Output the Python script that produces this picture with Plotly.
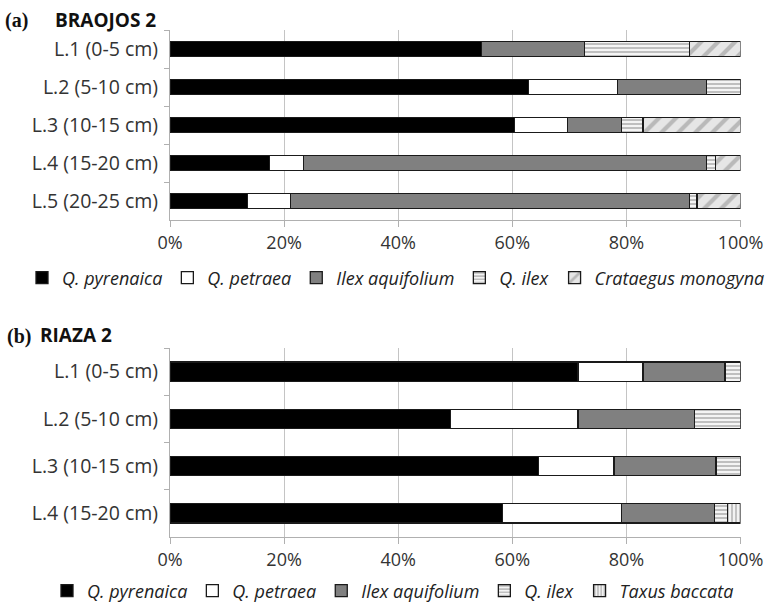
import plotly.graph_objects as go

# ---------------- data ----------------
cats_a = ["L.1 (0-5 cm)", "L.2 (5-10 cm)", "L.3 (10-15 cm)", "L.4 (15-20 cm)", "L.5 (20-25 cm)"]
pyr_a = [54.6, 62.8, 60.4, 17.5, 13.6]
pet_a = [0.0, 15.6, 9.3, 5.9, 7.5]
ilex_a = [18.0, 15.7, 9.4, 70.6, 69.9]
qilex_a = [18.4, 5.9, 3.8, 1.6, 1.4]
crat_a = [9.0, 0.0, 17.1, 4.4, 7.6]

cats_b = ["L.1 (0-5 cm)", "L.2 (5-10 cm)", "L.3 (10-15 cm)", "L.4 (15-20 cm)"]
pyr_b = [71.5, 49.2, 64.6, 58.3]
pet_b = [11.4, 22.3, 13.2, 20.9]
ilex_b = [14.4, 20.4, 17.9, 16.2]
qilex_b = [2.7, 8.1, 4.3, 2.3]
taxus_b = [0.0, 0.0, 0.0, 2.3]

x_ticks = [0, 20, 40, 60, 80, 100]
x_tick_labels = ["0%", "20%", "40%", "60%", "80%", "100%"]

W, H = 769, 605
FONT = "Open Sans"
LINE = dict(color="#1a1a1a", width=1.3)

styles = {
    "Q. pyrenaica": dict(color="#000000"),
    "Q. petraea": dict(color="#ffffff"),
    "Ilex aquifolium": dict(color="#808080"),
    "Q. ilex": dict(color="#ffffff", pattern=dict(shape="-", fgcolor="#7f7f7f", bgcolor="#f4f4f4", size=4, solidity=0.45)),
    "Crataegus monogyna": dict(color="#e0e0e0", pattern=dict(shape="/", fgcolor="#8c8c8c", bgcolor="#e6e6e6", size=12, solidity=0.35)),
    "Taxus baccata": dict(color="#ffffff", pattern=dict(shape="|", fgcolor="#7a7a7a", bgcolor="#f2f2f2", size=4, solidity=0.4)),
}

fig = go.Figure()

def add(name, cats, vals, xa, ya, legend):
    st = styles[name]
    marker = dict(color=st["color"], line=LINE)
    if "pattern" in st:
        marker["pattern"] = st["pattern"]
    fig.add_trace(go.Bar(
        y=cats, x=vals, name=name, orientation="h", marker=marker,
        xaxis=xa, yaxis=ya, legend=legend, width=0.41,
    ))

series_a = [("Q. pyrenaica", pyr_a), ("Q. petraea", pet_a), ("Ilex aquifolium", ilex_a),
            ("Q. ilex", qilex_a), ("Crataegus monogyna", crat_a)]
series_b = [("Q. pyrenaica", pyr_b), ("Q. petraea", pet_b), ("Ilex aquifolium", ilex_b),
            ("Q. ilex", qilex_b), ("Taxus baccata", taxus_b)]

for n, v in series_a:
    add(n, cats_a, v, "x", "y", "legend")
for n, v in series_b:
    add(n, cats_b, v, "x2", "y2", "legend2")

def py(px):
    return 1 - px / H

def pxx(px):
    return px / W

xdom = [pxx(170), pxx(740.5)]
xcommon = dict(
    range=[0, 100], tickvals=x_ticks, ticktext=x_tick_labels, showgrid=True, gridcolor="#c4c4c4", gridwidth=1,
    showline=True, linecolor="#b0b0b0", linewidth=1, ticks="outside", ticklen=6, tickcolor="#b0b0b0",
    zeroline=False, tickfont=dict(family=FONT, size=18, color="#333333"), domain=xdom, fixedrange=True,
    automargin=False,
)
ycommon = dict(
    type="category", autorange="reversed", showline=True, linecolor="#b0b0b0", linewidth=1,
    ticks="outside", tickson="boundaries", ticklen=5, tickcolor="#b0b0b0", showgrid=False,
    tickfont=dict(family=FONT, size=19.5, color="#333333"), ticklabelstandoff=7, fixedrange=True,
    automargin=False,
)

legfont = dict(family=FONT, size=18, color="#222222", style="italic")

fig.update_layout(
    width=W, height=H, margin=dict(l=0, r=0, t=0, b=0, autoexpand=False),
    paper_bgcolor="white", plot_bgcolor="white", barmode="stack",
    xaxis=dict(xcommon, anchor="y"),
    yaxis=dict(ycommon, domain=[py(220), py(30)], anchor="x"),
    xaxis2=dict(xcommon, anchor="y2"),
    yaxis2=dict(ycommon, domain=[py(537), py(348)], anchor="x2"),
    legend=dict(orientation="h", x=pxx(22), y=py(278), xanchor="left", yanchor="middle",
                font=legfont, itemwidth=30, traceorder="normal", bgcolor="rgba(0,0,0,0)"),
    legend2=dict(orientation="h", x=pxx(47), y=py(591), xanchor="left", yanchor="middle",
                 font=legfont, itemwidth=30, traceorder="normal", bgcolor="rgba(0,0,0,0)"),
    annotations=[
        dict(text="<b>(a)</b>", x=pxx(3), y=py(21), xref="paper", yref="paper", xanchor="left", yanchor="middle",
             showarrow=False, font=dict(family="Liberation Serif", size=20, color="#111111")),
        dict(text="<b>BRAOJOS 2</b>", x=pxx(53), y=py(20), xref="paper", yref="paper", xanchor="left", yanchor="middle",
             showarrow=False, font=dict(family=FONT, size=19, color="#111111")),
        dict(text="<b>(b)</b>", x=pxx(5), y=py(336), xref="paper", yref="paper", xanchor="left", yanchor="middle",
             showarrow=False, font=dict(family="Liberation Serif", size=20, color="#111111")),
        dict(text="<b>RIAZA 2</b>", x=pxx(38), y=py(335), xref="paper", yref="paper", xanchor="left", yanchor="middle",
             showarrow=False, font=dict(family=FONT, size=19, color="#111111")),
    ],
)

fig.write_html(
    "out.html",
    config={"displayModeBar": False},
    post_script="document.body.style.margin='0';document.body.style.overflow='hidden';",
)
